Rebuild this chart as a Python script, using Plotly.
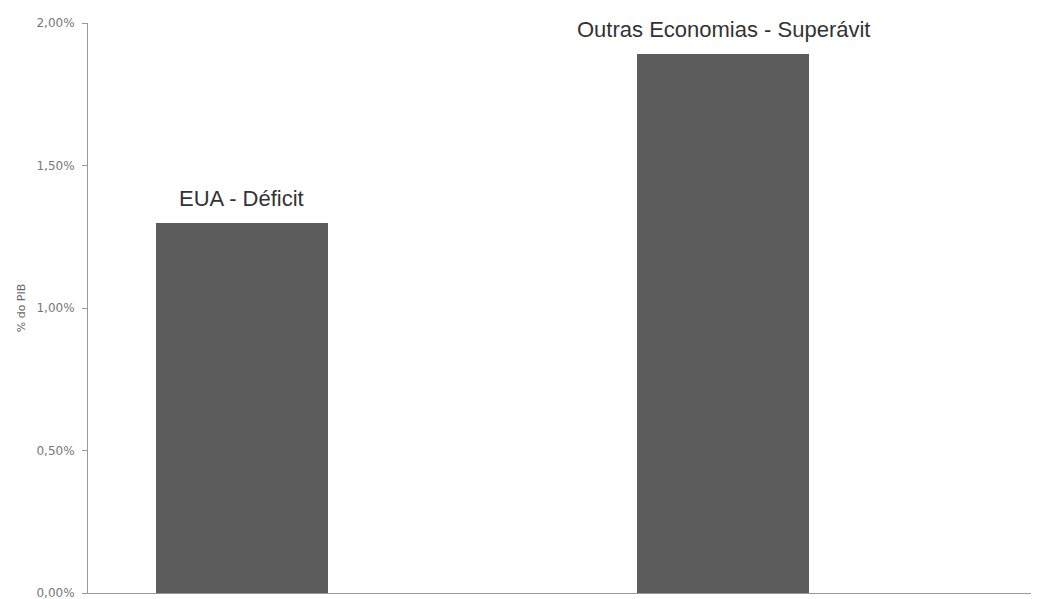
import plotly.graph_objects as go

categories = ["EUA - Déficit", "Outras Economias - Superávit"]
values = [0.0130, 0.0189]
y_ticks = [0, 0.005, 0.01, 0.015, 0.02]

fig = go.Figure(go.Bar(
    x=categories, y=values,
    marker=dict(color="#5c5c5c", line=dict(width=0)),
    width=0.358,
    hoverinfo="x+y",
))

for c, v in zip(categories, values):
    fig.add_annotation(x=c, y=v, text=c, showarrow=False,
                       yanchor="bottom", yshift=10,
                       font=dict(family="Arial, Liberation Sans", size=22, color="#333333"))

# page body has an 8px margin, so the figure is sized/offset to compensate
fig.update_layout(
    width=1031, height=591,
    margin=dict(l=80, r=3, t=15, b=6, autoexpand=False),
    paper_bgcolor="white", plot_bgcolor="white",
    separators=",.",
    showlegend=False,
    bargap=0,
    xaxis=dict(range=[-0.32, 1.65], showticklabels=False, ticks="",
               showline=True, linecolor="#999999", linewidth=1, showgrid=False,
               zeroline=False, automargin=False),
    yaxis=dict(range=[0, 0.02], tickvals=y_ticks, tickformat=".2%",
               ticks="outside", ticklen=5, tickcolor="#999999",
               ticklabelstandoff=5, ticklabeloverflow="allow",
               showline=True, linecolor="#999999", linewidth=1,
               showgrid=False, zeroline=False, automargin=False,
               tickfont=dict(family="DejaVu Sans, Verdana", size=12, color="#777777"),
               title=dict(text="% do PIB", standoff=8,
                          font=dict(family="DejaVu Sans, Verdana", size=11, color="#666666"))),
)

fig.write_html("out.html")
